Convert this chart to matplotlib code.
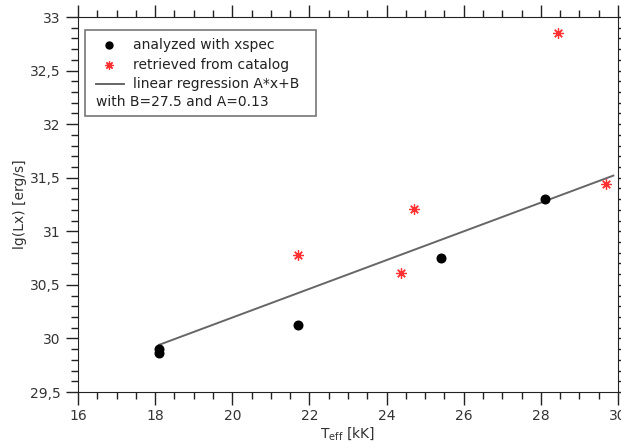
import numpy as np
import matplotlib.pyplot as plt
from matplotlib.ticker import MultipleLocator, FuncFormatter
from matplotlib.patches import Rectangle

# data
xspec_T = [18.1, 18.1, 21.7, 25.4, 28.1]
xspec_L = [29.90, 29.86, 30.13, 30.75, 31.30]
cat_T = [21.7, 24.38, 24.7, 28.44, 29.68]
cat_L = [30.78, 30.61, 31.21, 32.85, 31.44]
# regression line end points
fit_T = [18.1, 29.88]
fit_L = [29.94, 31.52]

plt.rcParams['font.family'] = ['DejaVu Sans']

fig = plt.figure(figsize=(6.21, 4.44), dpi=100)
ax = fig.add_axes([0.1256, 0.1171, 0.8696, 0.8446])

ax.plot(fit_T, fit_L, color='#666666', lw=1.4)
ax.plot(xspec_T, xspec_L, 'o', color='black', ms=6.2, ls='none')
ax.plot(cat_T, cat_L, marker=(8, 2, 0), color='#ff3030', ms=7.5, mew=0.9, ls='none')

ax.set_xlim(16, 30)
ax.set_ylim(29.5, 33)
ax.xaxis.set_major_locator(MultipleLocator(2))
ax.xaxis.set_minor_locator(MultipleLocator(0.5))
ax.yaxis.set_major_locator(MultipleLocator(0.5))
ax.yaxis.set_minor_locator(MultipleLocator(0.1))

comma = FuncFormatter(lambda v, p: ('%g' % v).replace('.', ','))
ax.xaxis.set_major_formatter(comma)
ax.yaxis.set_major_formatter(comma)

ax.tick_params(which='both', direction='out', top=True, right=True,
               colors='#222222', labelcolor='#333333', labelsize=10)
ax.tick_params(which='major', length=9, width=1)
ax.tick_params(which='minor', length=5, width=1)
for s in ax.spines.values():
    s.set_color('#222222')

ax.set_xlabel(r'T$_{\mathrm{eff}}$ [kK]', fontsize=10, color='#333333', labelpad=1)
ax.set_ylabel('lg(Lx) [erg/s]', fontsize=10, color='#333333', labelpad=2)

# hand made legend
tr = ax.transAxes
ax.add_patch(Rectangle((0.013, 0.736), 0.4277, 0.2293, transform=tr,
                       facecolor='white', edgecolor='#777777', lw=1.2, zorder=5))
rows = [0.9253, 0.872, 0.8213, 0.7733]
ax.plot([0.0574], [rows[0]], 'o', color='black', ms=5, transform=tr, zorder=6)
ax.plot([0.0574], [rows[1]], marker=(8, 2, 0), color='#ff3030', ms=6, mew=0.9,
        transform=tr, zorder=6)
ax.plot([0.0333, 0.0852], [rows[2], rows[2]], color='#666666', lw=1.4,
        transform=tr, zorder=6)
labels = ['analyzed with xspec', 'retrieved from catalog',
          'linear regression A*x+B']
for r, lab in zip(rows[:3], labels):
    ax.text(0.1019, r, lab, transform=tr, va='center', ha='left',
            fontsize=10, color='#222222', zorder=7)
ax.text(0.0333, rows[3], 'with B=27.5 and A=0.13', transform=tr, va='center',
        ha='left', fontsize=10, color='#222222', zorder=7)

fig.savefig('out.png', dpi=100)
